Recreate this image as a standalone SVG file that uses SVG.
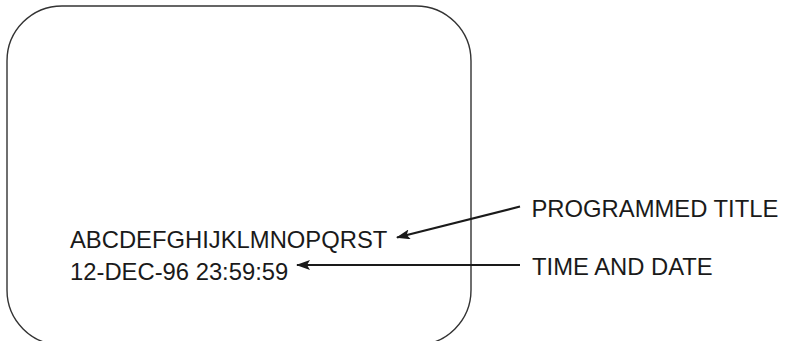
<svg xmlns="http://www.w3.org/2000/svg" width="785" height="341" viewBox="0 0 785 341">
<style>
.t{font-family:"Liberation Sans",Arial,sans-serif;font-size:23.8px;fill:#1a1a1a}
.c{stroke:#1a1a1a;stroke-width:2.2;fill:none}
</style>
<defs>
<marker id="ah" viewBox="0 0 14 10" refX="13" refY="5" markerWidth="14" markerHeight="10" markerUnits="userSpaceOnUse" orient="auto">
<path d="M14,5 L0,0 L3,5 L0,10 Z" fill="#1a1a1a"/>
</marker>
</defs>
<rect width="785" height="341" fill="#fff"/>
<g id="screen">
<rect x="7" y="6" width="464" height="339" rx="55" ry="55" fill="none" stroke="#333" stroke-width="1.4"/>
<text class="t" x="70" y="247.5">ABCDEFGHIJKLMNOPQRST</text>
<text class="t" x="70" y="279.5">12-DEC-96 23:59:59</text>
</g>
<g id="labels">
<text class="t" x="531.5" y="216.5">PROGRAMMED TITLE</text>
<text class="t" x="532" y="274.5">TIME AND DATE</text>
</g>
<g id="connectors">
<line class="c" x1="520" y1="206.5" x2="397" y2="237.5" marker-end="url(#ah)"/>
<line class="c" x1="520" y1="265" x2="297" y2="265" marker-end="url(#ah)"/>
</g>
</svg>
